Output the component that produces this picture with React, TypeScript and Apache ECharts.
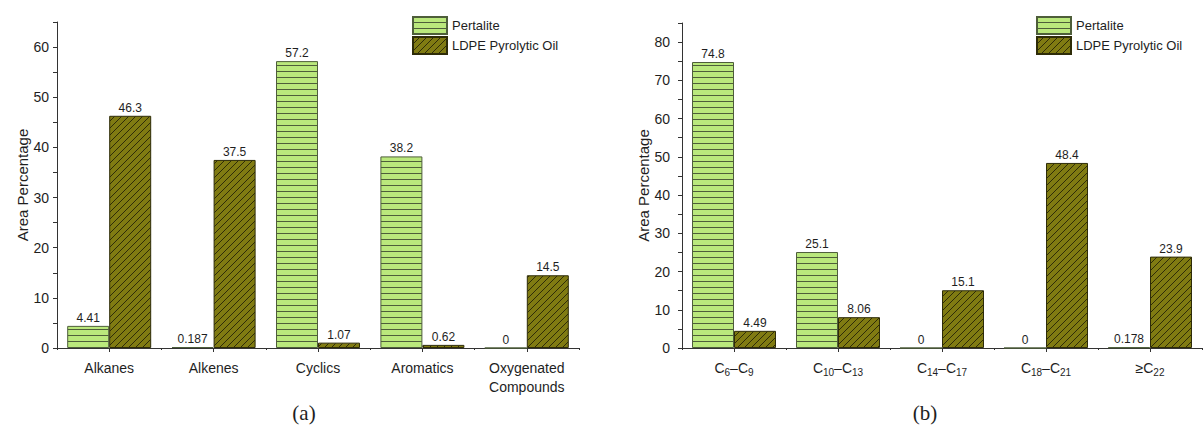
import React, { useEffect, useRef } from 'react';
import * as echarts from 'echarts';

const seriesNames = ['Pertalite', 'LDPE Pyrolytic Oil'];

const categoriesA = ['Alkanes', 'Alkenes', 'Cyclics', 'Aromatics', 'Oxygenated\nCompounds'];
const pertaliteA = [4.41, 0.187, 57.2, 38.2, 0];
const ldpeA = [46.3, 37.5, 1.07, 0.62, 14.5];

const categoriesB = ['C6–C9', 'C10–C13', 'C14–C17', 'C18–C21', '≥C22'];
const pertaliteB = [74.8, 25.1, 0, 0, 0.178];
const ldpeB = [4.49, 8.06, 15.1, 48.4, 23.9];

const yMaxA = 65;
const yMaxB = 85;
const yTickStep = 5;
const yLabelStep = 10;
const yAxisName = 'Area Percentage';
const panelLabels = ['(a)', '(b)'];

const FONT = '"Liberation Sans", Arial, sans-serif';
const TEXT = '#1e1e1e';
const AXIS = '#333';

function makeHLines(): HTMLCanvasElement {
  const c = document.createElement('canvas');
  c.width = 6;
  c.height = 6;
  const ctx = c.getContext('2d')!;
  ctx.fillStyle = '#bae87c';
  ctx.fillRect(0, 0, 6, 6);
  ctx.fillStyle = '#4e5e3a';
  ctx.fillRect(0, 5, 6, 1);
  return c;
}

function makeDiag(): HTMLCanvasElement {
  const s = 7;
  const c = document.createElement('canvas');
  c.width = s;
  c.height = s;
  const ctx = c.getContext('2d')!;
  ctx.fillStyle = '#807b12';
  ctx.fillRect(0, 0, s, s);
  ctx.strokeStyle = '#2e2c08';
  ctx.lineWidth = 1;
  ctx.beginPath();
  ctx.moveTo(0, s);
  ctx.lineTo(s, 0);
  ctx.moveTo(-1, 1);
  ctx.lineTo(1, -1);
  ctx.moveTo(s - 1, s + 1);
  ctx.lineTo(s + 1, s - 1);
  ctx.stroke();
  return c;
}

export default function App() {
  const ref = useRef<HTMLDivElement>(null);

  useEffect(() => {
    if (!ref.current) return;
    const chart = echarts.init(ref.current, null, { renderer: 'svg' });

    const hImg = makeHLines();
    const dImg = makeDiag();
    const greenPattern: any = { image: hImg, repeat: 'repeat', imageWidth: 6, imageHeight: 6 };
    const olivePattern: any = { image: dImg, repeat: 'repeat', imageWidth: 7, imageHeight: 7 };

    const styles = [
      { color: greenPattern, borderColor: '#4e5e3a', borderWidth: 1 },
      { color: olivePattern, borderColor: '#2e2c08', borderWidth: 1 },
    ];

    const yAxisBase = (max: number, margin: number, nameGap: number, gridIndex: number) => ({
      type: 'value',
      gridIndex,
      min: 0,
      max,
      interval: yTickStep,
      name: yAxisName,
      nameLocation: 'middle',
      nameGap,
      nameTextStyle: { fontSize: 15, color: TEXT, fontFamily: FONT },
      axisLine: { show: true, lineStyle: { color: AXIS, width: 1 } },
      axisTick: { show: true, length: 4, lineStyle: { color: AXIS } },
      splitLine: { show: false },
      axisLabel: {
        fontSize: 14,
        color: TEXT,
        fontFamily: FONT,
        margin,
        formatter: (v: number) => (v % yLabelStep === 0 ? String(v) : ''),
      },
    });

    const xMain = (data: string[], gridIndex: number, extra: any = {}) => ({
      type: 'category',
      gridIndex,
      data,
      position: 'bottom',
      axisLine: { show: true, lineStyle: { color: AXIS, width: 1 } },
      axisTick: { show: true, alignWithLabel: true, length: 4, lineStyle: { color: AXIS } },
      axisLabel: {
        interval: 0,
        fontSize: 14,
        color: TEXT,
        fontFamily: FONT,
        margin: 10,
        lineHeight: 19,
        ...extra,
      },
    });

    const xBoundary = (data: string[], gridIndex: number) => ({
      type: 'category',
      gridIndex,
      data,
      position: 'bottom',
      offset: 0,
      axisLine: { show: false },
      axisTick: { show: true, length: 2, lineStyle: { color: AXIS } },
      axisLabel: { show: false },
    });

    const barSeries = (name: string, data: number[], xi: number, yi: number, si: number) => ({
      type: 'bar',
      name,
      data,
      xAxisIndex: xi,
      yAxisIndex: yi,
      barWidth: 42,
      barGap: '0%',
      itemStyle: styles[si],
      label: {
        show: true,
        position: 'top',
        distance: 2,
        fontSize: 12,
        color: TEXT,
        fontFamily: FONT,
      },
    });

    const legendBase = (left: number) => ({
      orient: 'vertical',
      left,
      top: 16,
      padding: 0,
      itemWidth: 34,
      itemHeight: 17,
      itemGap: 1,
      icon: 'rect',
      data: seriesNames,
      textStyle: { fontSize: 13, color: TEXT, fontFamily: FONT },
      selectedMode: false,
    });

    const panelText = (text: string, x: number) => ({
      type: 'text',
      x,
      y: 413,
      style: {
        text,
        font: '21px "Liberation Serif", serif',
        textAlign: 'center',
        textVerticalAlign: 'middle',
        align: 'center',
        verticalAlign: 'middle',
        fill: TEXT,
      },
    });

    chart.setOption({
      animation: false,
      backgroundColor: '#fff',
      textStyle: { fontFamily: FONT },
      grid: [
        { left: 57, top: 22, width: 522, height: 326 },
        { left: 682, top: 23, width: 520, height: 325 },
      ],
      legend: [legendBase(412), legendBase(1036)],
      xAxis: [
        xMain(categoriesA, 0),
        xBoundary(categoriesA, 0),
        xMain(categoriesB, 1, {
          formatter: (v: string) => v.replace(/C(\d+)/g, 'C{s|$1}'),
          rich: {
            s: { fontSize: 10, color: TEXT, fontFamily: FONT, verticalAlign: 'bottom', padding: [5, 0, 0, 0] },
          },
        }),
        xBoundary(categoriesB, 1),
      ],
      yAxis: [yAxisBase(yMaxA, 8, 24, 0), yAxisBase(yMaxB, 12, 27, 1)],
      series: [
        barSeries(seriesNames[0], pertaliteA, 0, 0, 0),
        barSeries(seriesNames[1], ldpeA, 0, 0, 1),
        barSeries(seriesNames[0], pertaliteB, 2, 1, 0),
        barSeries(seriesNames[1], ldpeB, 2, 1, 1),
      ],
      graphic: [panelText(panelLabels[0], 304), panelText(panelLabels[1], 925)],
    });

    return () => chart.dispose();
  }, []);

  return (
    <div
      ref={ref}
      style={{ position: 'absolute', left: 0, top: 0, width: 1203, height: 429 }}
    />
  );
}
